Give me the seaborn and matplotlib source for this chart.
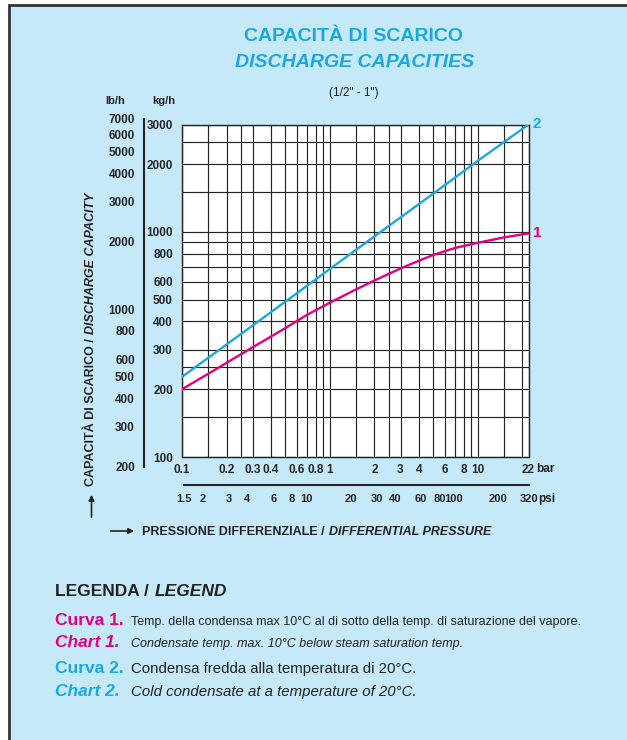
import pandas as pd
import seaborn as sns
import matplotlib.pyplot as plt
from matplotlib.patches import Rectangle
from matplotlib.ticker import NullFormatter

# Valori (bar -> kg/h)
bar_c1 = [0.1, 0.15, 0.2, 0.3, 0.4, 0.5, 0.7, 1, 1.5, 2, 3, 4, 5, 7, 10, 15, 22]
kg_c1 = [200, 234, 262, 307, 343, 374, 428, 485, 555, 608, 688, 745, 790, 848, 895, 945, 985]
bar_c2 = [0.1, 0.2, 0.5, 1, 2, 5, 10, 22]
kg_c2 = [227, 316, 490, 685, 955, 1480, 2070, 3000]

bar_ticks = [0.1, 0.2, 0.3, 0.4, 0.6, 0.8, 1, 2, 3, 4, 6, 8, 10, 22]
bar_grid = [0.15, 0.25, 0.5, 0.7, 0.9, 1.5, 2.5, 5, 7, 9, 15, 20]
kg_ticks = [100, 200, 300, 400, 500, 600, 800, 1000, 2000, 3000]
kg_grid = [150, 250, 700, 900, 1500, 2500]
lb_ticks = [200, 300, 400, 500, 600, 800, 1000, 2000, 3000, 4000, 5000, 6000, 7000]
lb_minor = [250, 1500, 2500]
psi_ticks = [1.5, 2, 3, 4, 6, 8, 10, 20, 30, 40, 60, 80, 100, 200, 320]
psi_minor = [2.5, 5, 7, 9, 15, 25, 50, 70, 90, 150, 250]

LB_PER_KG = 2.2046
PSI_PER_BAR = 14.5038

W, H = 627, 740
CIANO = '#1ba8e0'
MAGENTA = '#e5007d'
SFONDO = '#c6e9f9'
NERO = '#222222'

sns.set_style('white')
plt.rcParams['font.family'] = ['Liberation Sans', 'DejaVu Sans']


def fx(x):
    return x / W


def fy(y):
    return 1 - y / H


fig = plt.figure(figsize=(W / 100, H / 100), dpi=100, facecolor='white')
fig.patches.append(Rectangle((fx(9), -0.05), 1.05, 1.05 - 5 / H, transform=fig.transFigure,
                             facecolor=SFONDO, edgecolor='#333333', lw=2, zorder=-10))

# grafico principale
ax = fig.add_axes([fx(182), fy(457), (528.5 - 182) / W, (457 - 124.5) / H])
ax.set_facecolor('white')
ax.set_xscale('log')
ax.set_yscale('log')
ax.set_xlim(0.1, 22)
ax.set_ylim(100, 3000)

df = pd.concat([
    pd.DataFrame({'bar': bar_c1, 'kgh': kg_c1, 'curva': '1'}),
    pd.DataFrame({'bar': bar_c2, 'kgh': kg_c2, 'curva': '2'}),
])
sns.lineplot(data=df, x='bar', y='kgh', hue='curva', palette={'1': MAGENTA, '2': CIANO},
             lw=1.7, legend=False, errorbar=None, ax=ax, zorder=5)

ax.set_xticks(bar_ticks, labels=['%g' % v for v in bar_ticks])
ax.set_xticks(bar_grid, minor=True)
ax.set_yticks(kg_ticks, labels=['%g' % v for v in kg_ticks])
ax.set_yticks(kg_grid, minor=True)
ax.xaxis.set_minor_formatter(NullFormatter())
ax.yaxis.set_minor_formatter(NullFormatter())
ax.tick_params(axis='x', which='both', length=0, pad=5, labelsize=8.5)
ax.tick_params(axis='y', which='major', length=5, width=1, pad=1.5, labelsize=8.5)
ax.tick_params(axis='y', which='minor', length=0)
for l in ax.get_xticklabels() + ax.get_yticklabels():
    l.set_fontweight('bold')
ax.grid(True, which='both', color=NERO, lw=0.85)
for s in ax.spines.values():
    s.set_color(NERO)
    s.set_linewidth(1)
ax.set_xlabel('')
ax.set_ylabel('')

for lab, xs, ys, col in [('1', bar_c1, kg_c1, MAGENTA), ('2', bar_c2, kg_c2, CIANO)]:
    ax.annotate(lab, xy=(xs[-1], ys[-1]), xytext=(3, 0), textcoords='offset points',
                ha='left', va='center', color=col, fontsize=11, fontweight='bold',
                annotation_clip=False)

inv = fig.transFigure.inverted()

# asse lb/h
y0 = inv.transform(ax.transData.transform((1, lb_ticks[0] / LB_PER_KG)))[1]
y1 = inv.transform(ax.transData.transform((1, lb_ticks[-1] / LB_PER_KG)))[1]
axl = fig.add_axes([fx(144), y0, 0.02, y1 - y0])
axl.patch.set_visible(False)
for k in ['top', 'right', 'bottom']:
    axl.spines[k].set_visible(False)
axl.spines['left'].set_linewidth(1.5)
axl.spines['left'].set_color(NERO)
axl.set_yscale('log')
axl.set_ylim(lb_ticks[0], lb_ticks[-1])
axl.set_xticks([])
axl.set_yticks(lb_ticks, labels=['%g' % v for v in lb_ticks])
axl.set_yticks(lb_minor, minor=True)
axl.yaxis.set_minor_formatter(NullFormatter())
axl.tick_params(axis='y', which='major', direction='inout', length=9, width=1.3, pad=2,
                labelsize=8.5, color=NERO)
axl.tick_params(axis='y', which='minor', direction='in', length=4.5, width=1.3, color=NERO)
for l in axl.get_yticklabels():
    l.set_fontweight('bold')

# asse psi
x0 = inv.transform(ax.transData.transform((psi_ticks[0] / PSI_PER_BAR, 100)))[0]
x1 = inv.transform(ax.transData.transform((psi_ticks[-1] / PSI_PER_BAR, 100)))[0]
axp = fig.add_axes([x0, fy(485), x1 - x0, 0.02])
axp.patch.set_visible(False)
for k in ['top', 'right', 'left']:
    axp.spines[k].set_visible(False)
axp.spines['bottom'].set_linewidth(1.5)
axp.spines['bottom'].set_color(NERO)
axp.set_xscale('log')
axp.set_xlim(psi_ticks[0], psi_ticks[-1])
axp.set_yticks([])
axp.set_xticks(psi_ticks, labels=['%g' % v for v in psi_ticks])
axp.set_xticks(psi_minor, minor=True)
axp.xaxis.set_minor_formatter(NullFormatter())
axp.tick_params(axis='x', which='major', direction='inout', length=9, width=1.3, pad=2,
                labelsize=8, color=NERO)
axp.tick_params(axis='x', which='minor', direction='in', length=4.5, width=1.3, color=NERO)
for l in axp.get_xticklabels():
    l.set_fontweight('bold')

# testi
fig.text(fx(354), fy(40.7), 'CAPACITÀ DI SCARICO', ha='center', va='baseline',
         color=CIANO, fontsize=14, fontweight='bold')
fig.text(fx(355), fy(66.7), 'DISCHARGE CAPACITIES', ha='center', va='baseline',
         color=CIANO, fontsize=14, fontweight='bold', style='italic')
fig.text(fx(354), fy(96), '(1/2" - 1")', ha='center', va='baseline', fontsize=8.5, color=NERO)

fig.text(fx(115), fy(101), 'lb/h', ha='center', va='center', fontsize=8, fontweight='bold', color=NERO)
fig.text(fx(164), fy(101), 'kg/h', ha='center', va='center', fontsize=8, fontweight='bold', color=NERO)
fig.text(fx(536), fy(469), 'bar', ha='left', va='center', fontsize=8.5, fontweight='bold', color=NERO)
fig.text(fx(538), fy(499), 'psi', ha='left', va='center', fontsize=8.5, fontweight='bold', color=NERO)

t_y = fig.text(fx(91), fy(486), 'CAPACITÀ DI SCARICO /', rotation=90, ha='center', va='bottom',
               fontsize=9, fontweight='bold', color=NERO)
ax.annotate('DISCHARGE CAPACITY', xy=(0.5, 1), xycoords=t_y, xytext=(0, 3),
            textcoords='offset points', rotation=90, ha='center', va='bottom',
            fontsize=9, fontweight='bold', style='italic', color=NERO)
ax.annotate('', xy=(fx(91.5), fy(492)), xytext=(fx(91.5), fy(520)), xycoords='figure fraction',
            arrowprops=dict(arrowstyle='-|>', color=NERO, lw=1.2, mutation_scale=8),
            annotation_clip=False)

t_x = fig.text(fx(142), fy(535), 'PRESSIONE DIFFERENZIALE /', ha='left', va='baseline',
               fontsize=9, fontweight='bold', color=NERO)
ax.annotate('DIFFERENTIAL PRESSURE', xy=(1, 0), xycoords=t_x, xytext=(3, 0),
            textcoords='offset points', ha='left', va='bottom',
            fontsize=9, fontweight='bold', style='italic', color=NERO)
ax.annotate('', xy=(fx(137), fy(531)), xytext=(fx(108), fy(531)), xycoords='figure fraction',
            arrowprops=dict(arrowstyle='-|>', color=NERO, lw=1.2, mutation_scale=8),
            annotation_clip=False)

# legenda
t_l = fig.text(fx(55), fy(596), 'LEGENDA /', ha='left', va='baseline', fontsize=12.5,
               fontweight='bold', color=NERO)
ax.annotate('LEGEND', xy=(1, 0), xycoords=t_l, xytext=(4, 0), textcoords='offset points',
            ha='left', va='bottom', fontsize=12.5, fontweight='bold', style='italic', color=NERO)

righe = [
    (625, 'Curva 1.', MAGENTA, 'normal',
     'Temp. della condensa max 10°C al di sotto della temp. di saturazione del vapore.', 9),
    (647, 'Chart 1.', MAGENTA, 'italic',
     'Condensate temp. max. 10°C below steam saturation temp.', 9),
    (673, 'Curva 2.', CIANO, 'normal',
     'Condensa fredda alla temperatura di 20°C.', 10.8),
    (696, 'Chart 2.', CIANO, 'italic',
     'Cold condensate at a temperature of 20°C.', 10.8),
]
for y, etichetta, col, stile, testo, dim in righe:
    fig.text(fx(55), fy(y), etichetta, ha='left', va='baseline', fontsize=12.5,
             fontweight='bold', style=stile, color=col)
    fig.text(fx(131), fy(y), testo, ha='left', va='baseline', fontsize=dim,
             style=stile, color=NERO)

fig.savefig('out.png', dpi=100, facecolor=fig.get_facecolor())
